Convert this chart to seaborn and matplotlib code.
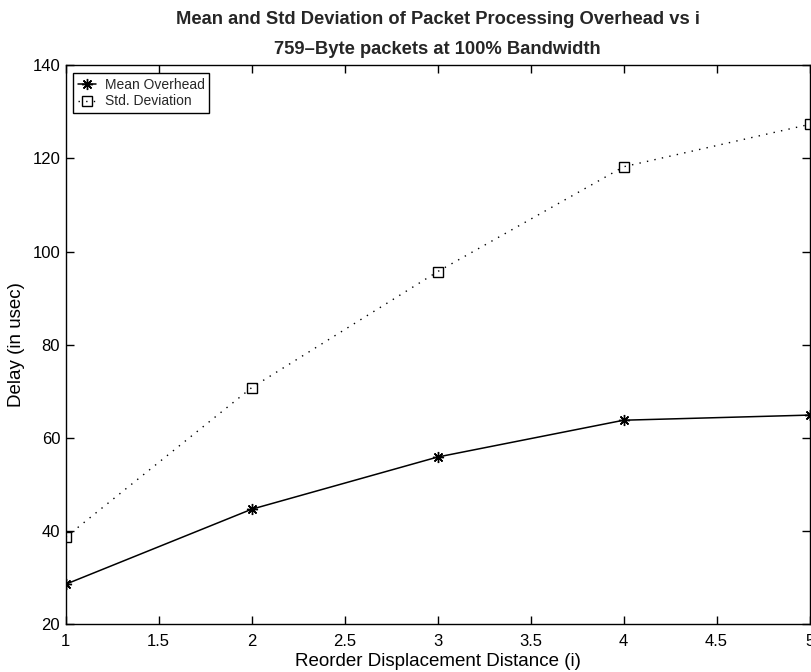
import matplotlib
matplotlib.use("Agg")
import matplotlib.pyplot as plt
import seaborn as sns
import pandas as pd

# Reorder displacement distance and measured delays (usec)
distance = [1, 2, 3, 4, 5]
mean_overhead = [28.6, 44.7, 55.9, 63.8, 64.9]
std_deviation = [38.7, 70.8, 95.7, 118.2, 127.3]

x_ticks = [1, 1.5, 2, 2.5, 3, 3.5, 4, 4.5, 5]
x_tick_labels = ["1", "1.5", "2", "2.5", "3", "3.5", "4", "4.5", "5"]
y_ticks = [20, 40, 60, 80, 100, 120, 140]

sns.set_theme(style="ticks")
plt.rcParams["font.family"] = ["Liberation Sans", "DejaVu Sans"]

df = pd.DataFrame({
    "distance": distance,
    "Mean Overhead": mean_overhead,
    "Std. Deviation": std_deviation,
})

fig = plt.figure(figsize=(8.12, 6.72), dpi=100)
ax = fig.add_axes([0.081, 0.071, 0.916, 0.832])

asterisk = (8, 2, 0)
sns.lineplot(data=df, x="distance", y="Mean Overhead", ax=ax, color="black",
             linewidth=1.1, marker=asterisk, markersize=8,
             markeredgecolor="black", markeredgewidth=1.0,
             label="Mean Overhead")
sns.lineplot(data=df, x="distance", y="Std. Deviation", ax=ax, color="black",
             linewidth=1.0, dashes=False, marker="s", markersize=6.5,
             markerfacecolor="none", markeredgecolor="black",
             markeredgewidth=1.0, label="Std. Deviation")
ax.lines[1].set_linestyle((0, (1, 4.5)))

ax.set_xlim(1, 5)
ax.set_ylim(20, 140)
ax.set_xticks(x_ticks)
ax.set_xticklabels(x_tick_labels)
ax.set_yticks(y_ticks)

for side in ["top", "right", "left", "bottom"]:
    ax.spines[side].set_visible(True)
    ax.spines[side].set_color("black")
    ax.spines[side].set_linewidth(1.0)

ax.tick_params(axis="both", which="both", direction="in", length=6, width=1.0,
               top=True, right=True, labelsize=12, colors="black")
ax.tick_params(axis="x", pad=7)
ax.tick_params(axis="y", pad=4)

ax.set_xlabel("Reorder Displacement Distance (i)", fontsize=13.5, color="black",
              labelpad=3)
ax.set_ylabel("Delay (in usec)", fontsize=13.5, color="black", labelpad=5)

fig.text(0.539, 0.971, "Mean and Std Deviation of Packet Processing Overhead vs i",
         ha="center", va="center", fontsize=13.2, fontweight="bold")
ax.set_title("759\u2013Byte packets at 100% Bandwidth", fontsize=13.2,
             fontweight="bold", pad=8)

leg = ax.legend(loc="upper left", frameon=True, fancybox=False,
                edgecolor="black", framealpha=1, fontsize=10,
                handlelength=1.3, handletextpad=0.6, borderpad=0.35,
                labelspacing=0.2, borderaxespad=0.55)
leg.get_frame().set_linewidth(1.0)

fig.savefig("out.png", dpi=100)
